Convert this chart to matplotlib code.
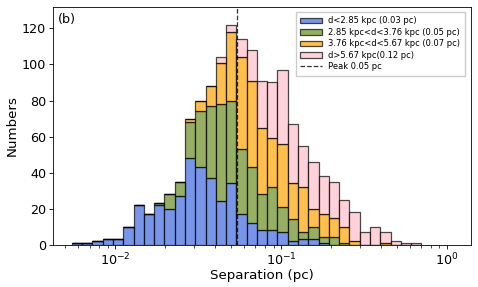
import numpy as np
import matplotlib
matplotlib.use("Agg")
import matplotlib.pyplot as plt

# bin edges (log10 of first and last edge, number of bins)
log_lo, log_hi, n_bins = -2.2616, -0.1541, 34

blue = [1, 1, 2, 3, 3, 10, 22, 17, 22, 20, 27, 48, 43, 37, 24, 34, 17, 12, 8, 8,
        7, 2, 3, 3, 1, 0, 0, 0, 0, 0, 0, 0, 0, 0]
green = [0, 0, 0, 0, 0, 0, 0, 0, 1, 8, 8, 20, 31, 40, 54, 46, 36, 31, 20, 24,
         14, 12, 4, 7, 3, 4, 1, 0, 0, 0, 0, 0, 0, 0]
orange = [0, 0, 0, 0, 0, 0, 0, 0, 0, 0, 0, 2, 6, 11, 23, 38, 51, 48, 37, 27,
          35, 20, 25, 10, 13, 11, 9, 2, 0, 0, 1, 0, 0, 0]
pink = [0, 0, 0, 0, 0, 0, 0, 0, 0, 0, 0, 0, 0, 0, 3, 4, 10, 17, 26, 31,
        41, 33, 23, 26, 21, 20, 15, 16, 7, 10, 6, 2, 1, 1]

labels = ["d<2.85 kpc (0.03 pc)", "2.85 kpc<d<3.76 kpc (0.05 pc)",
          "3.76 kpc<d<5.67 kpc (0.07 pc)", "d>5.67 kpc(0.12 pc)"]
colors = ["royalblue", "olivedrab", "orange", "pink"]
peak = 0.0541
peak_label = "Peak 0.05 pc"

edges = np.logspace(log_lo, log_hi, n_bins + 1)
centers = np.sqrt(edges[:-1] * edges[1:])

fig = plt.figure(figsize=(4.78, 2.87), dpi=100)
ax = fig.add_axes([0.111, 0.148, 0.874, 0.828])

ax.hist([centers] * 4, bins=edges, weights=[blue, green, orange, pink],
        stacked=True, color=colors, alpha=0.7, edgecolor="black",
        linewidth=0.9, label=labels)
ax.axvline(peak, color="black", linestyle="--", linewidth=0.9, alpha=0.8,
           label=peak_label)

ax.set_xscale("log")
ax.set_xlim(10 ** -2.375, 10 ** 0.144)
ax.set_ylim(0, 132)
ax.set_yticks([0, 20, 40, 60, 80, 100, 120])
ax.tick_params(labelsize=9.2, length=3, width=0.6, pad=2)
ax.tick_params(which="minor", length=1.8, width=0.5)
ax.set_xlabel("Separation (pc)", fontsize=9.6, labelpad=1)
ax.set_ylabel("Numbers", fontsize=9.6, labelpad=2)
for s in ax.spines.values():
    s.set_linewidth(0.6)
ax.text(0.012, 0.975, "(b)", transform=ax.transAxes, fontsize=9.2,
        va="top", ha="left")
ax.legend(loc="upper right", fontsize=6.0, frameon=True, fancybox=False,
          edgecolor="#cccccc", framealpha=1, handlelength=2.6,
          borderpad=0.5, labelspacing=0.3, bbox_to_anchor=(0.995, 0.995))

fig.savefig("out.png", dpi=100)
